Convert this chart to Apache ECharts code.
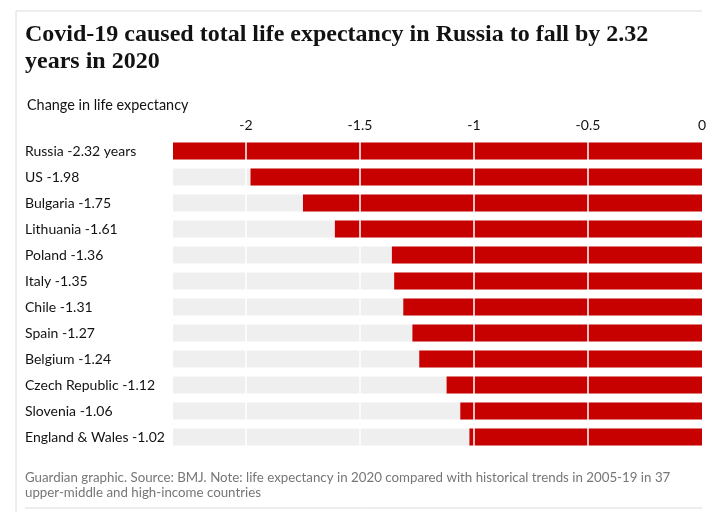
<!DOCTYPE html>
<html><head><meta charset="utf-8">
<script src="https://cdn.jsdelivr.net/npm/echarts@6/dist/echarts.min.js"></script>
<style>html,body{margin:0;padding:0;background:#fff}#c{width:728px;height:512px}</style>
</head><body><div id="c"></div>
<script>
const countries = ["Russia","US","Bulgaria","Lithuania","Poland","Italy","Chile","Spain","Belgium","Czech Republic","Slovenia","England & Wales"];
const values = [-2.32,-1.98,-1.75,-1.61,-1.36,-1.35,-1.31,-1.27,-1.24,-1.12,-1.06,-1.02];
const gridValues = [-2,-1.5,-1,-0.5];
const tickValues = [-2,-1.5,-1,-0.5,0];
const titleText = "Covid-19 caused total life expectancy in Russia to fall by 2.32\nyears in 2020";
const subtitleText = "Change in life expectancy";
const footerText = "Guardian graphic. Source: BMJ. Note: life expectancy in 2020 compared with historical trends in 2005-19 in 37\nupper-middle and high-income countries";

const labels = countries.map((c,i)=> c + " " + values[i].toFixed(2) + (i===0?" years":""));
const chart = echarts.init(document.getElementById('c'));
chart.setOption({
  animation:false,
  backgroundColor:'#fff',
  title:{
    text:titleText, left:25, top:21, padding:0,
    textStyle:{fontFamily:'Liberation Serif', fontWeight:'bold', fontSize:24, lineHeight:27, color:'#121212'}
  },
  graphic:[
    {type:'line', shape:{x1:16,y1:11,x2:702,y2:11}, style:{stroke:'#dcdcdc',lineWidth:1}},
    {type:'line', shape:{x1:16,y1:11,x2:16,y2:512}, style:{stroke:'#dcdcdc',lineWidth:1}},
    {type:'line', shape:{x1:25,y1:508,x2:702,y2:508}, style:{stroke:'#dcdcdc',lineWidth:1}},
    {type:'text', left:27, top:98, style:{text:subtitleText, font:'14.4px Lato', fill:'#121212'}},
    {type:'text', left:25, top:470, style:{text:footerText, font:'13.3px Lato', fill:'#767676', lineHeight:15}}
  ],
  grid:{left:173, right:26, top:138, bottom:62, containLabel:false},
  xAxis:{
    type:'value', position:'top', min:-2.32, max:0, interval:0.5,
    axisLine:{show:false}, axisTick:{show:false}, splitLine:{show:false},
    axisLabel:{
      margin:6, fontFamily:'Lato', fontSize:14, color:'#121212',
      customValues:tickValues,
      formatter:v=> String(v)
    }
  },
  yAxis:{
    type:'category', data:labels, inverse:true,
    axisLine:{show:false}, axisTick:{show:false}, splitLine:{show:false},
    axisLabel:{align:'left', margin:148, fontFamily:'Lato', fontSize:14, color:'#121212'}
  },
  series:[{
    type:'bar', data:values, barWidth:17,
    itemStyle:{color:'#c70000'},
    showBackground:true, backgroundStyle:{color:'#efefef'},
    markLine:{
      silent:true, symbol:'none', label:{show:false},
      lineStyle:{color:'#ffffff', width:1.5, type:'solid'},
      data: gridValues.map(v=>({xAxis:v}))
    }
  }]
});
</script></body></html>
